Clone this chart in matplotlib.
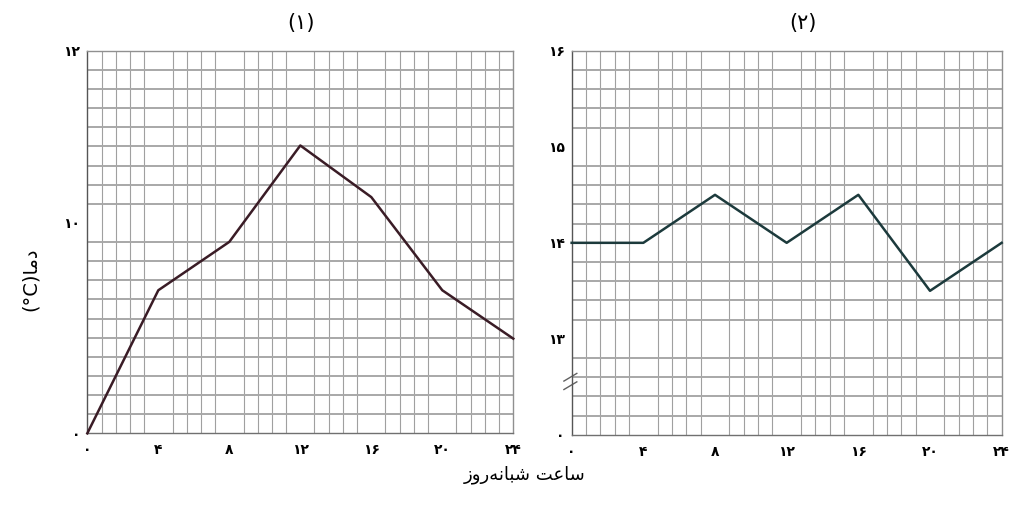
import numpy as np
import matplotlib
matplotlib.use('Agg')
import matplotlib.pyplot as plt

plt.rcParams['font.family'] = ['DejaVu Sans']

hours = [0, 4, 8, 12, 16, 20, 24]
hour_labels = ['۰', '۴', '۸', '۱۲', '۱۶', '۲۰', '۲۴']

temps_1 = [0, 6.8, 9.1, 10.9, 10.3, 6.8, 4.5]
temps_2 = [14, 14, 14.5, 14, 14.5, 13.5, 14]

yticks_1 = [0, 10, 12]
ylabels_1 = ['۰', '۱۰', '۱۲']
yticks_2 = [0, 13, 14, 15, 16]
ylabels_2 = ['۰', '۱۳', '۱۴', '۱۵', '۱۶']

# the printed axes are not linear: value -> grid row
rows_1 = ([0, 10, 12], [0, 11, 20])
rows_2 = ([0, 13, 16], [0, 5, 20])

# text already shaped (presentation forms, visual order)
xlabel = '\ufeaf\ufeed\ufead\ufeea\ufee7\ufe8e\ufe92\ufeb7 \ufe96\ufecb\ufe8e\ufeb3'
ylabel = '(°C)' + '\ufe8e\ufee3\ufea9'


def setup_axis(ax, rows, yticks, ylabels, color, temps):
    vals, rr = rows
    fwd = lambda v: np.interp(v, vals, rr)
    inv = lambda r: np.interp(r, rr, vals)
    ax.set_yscale('function', functions=(fwd, inv))
    ax.set_xlim(0, 24)
    ax.set_ylim(vals[0], vals[-1])
    ax.set_xticks(hours)
    ax.set_xticklabels(hour_labels, fontsize=10, fontweight='bold')
    ax.set_yticks(yticks)
    ax.set_yticklabels(ylabels, fontsize=10, fontweight='bold')
    ax.set_xticks(np.arange(31) * 0.8, minor=True)
    ax.set_yticks(inv(np.arange(21)), minor=True)
    ax.tick_params(which='both', length=0)
    ax.tick_params(axis='x', pad=7)
    ax.tick_params(axis='y', pad=5)
    ax.grid(False, which='major')
    ax.xaxis.grid(True, which='minor', color='#a0a0a0', linewidth=0.8)
    ax.yaxis.grid(True, which='minor', color='#a8a8a8', linewidth=1.4)
    for s in ax.spines.values():
        s.set_color('#909090')
        s.set_linewidth(1.0)
    ax.spines['left'].set_color('#555555')
    ax.spines['bottom'].set_color('#707070')
    ax.plot(hours, temps, color=color, linewidth=1.8, zorder=5, clip_on=False)


fig = plt.figure(figsize=(10.19, 5.08), dpi=100)
ax1 = fig.add_axes([0.0857, 0.147, 0.418, 0.753])
ax2 = fig.add_axes([0.561, 0.144, 0.422, 0.756])

setup_axis(ax1, rows_1, yticks_1, ylabels_1, '#3a1c26', temps_1)
setup_axis(ax2, rows_2, yticks_2, ylabels_2, '#1c3a3c', temps_2)

# axis break mark on the second panel
for dy in (0.0, 0.022):
    ax2.plot([-0.018, 0.012], [0.118 + dy, 0.138 + dy], transform=ax2.transAxes,
             color='#606060', linewidth=1.0, clip_on=False)

fig.text(0.295, 0.955, '(۱)', fontsize=15, ha='center', va='center')
fig.text(0.788, 0.955, '(۲)', fontsize=15, ha='center', va='center')
fig.text(0.515, 0.066, xlabel, fontsize=13, ha='center', va='center')
fig.text(0.03, 0.45, ylabel, fontsize=14, ha='center', va='center', rotation=90)

fig.savefig('out.png', dpi=100)
